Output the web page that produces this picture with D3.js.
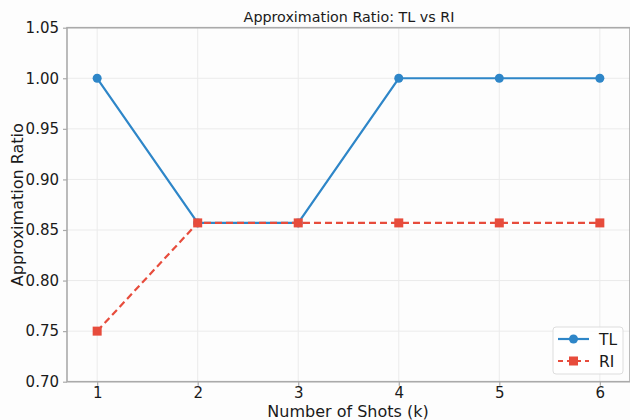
<!DOCTYPE html>
<html>
<head>
<meta charset="utf-8">
<script src="https://cdn.jsdelivr.net/npm/d3@7"></script>
<style>
  body { margin: 0; background: #fdfdfd; }
  svg { display: block; font-family: "DejaVu Sans", sans-serif; }
</style>
</head>
<body>
<svg id="chart" width="630" height="420"></svg>
<script>
// Data
const shots = [1, 2, 3, 4, 5, 6];
const tlValues = [1.0, 0.857, 0.857, 1.0, 1.0, 1.0];
const riValues = [0.75, 0.857, 0.857, 0.857, 0.857, 0.857];
const yTicks = [0.70, 0.75, 0.80, 0.85, 0.90, 0.95, 1.00, 1.05];

const colors = {
  tl: "#2e86c8",
  ri: "#e74c3c",
  grid: "#ebebeb",
  spine: "#aaaaaa",
  text: "#1a1a1a"
};

const margin = { top: 27.7, right: 0, bottom: 38.3, left: 67 };
const width = 630, height = 420;

const svg = d3.select("#chart");

const x = d3.scaleLinear().domain([0.7, 6.3]).range([margin.left, width - margin.right]);
const y = d3.scaleLinear().domain([0.70, 1.05]).range([height - margin.bottom, margin.top]);

// grid
svg.append("g").selectAll("line").data(shots).enter().append("line")
  .attr("x1", d => x(d)).attr("x2", d => x(d))
  .attr("y1", y(0.70)).attr("y2", y(1.05))
  .attr("stroke", colors.grid).attr("stroke-width", 1);
svg.append("g").selectAll("line").data(yTicks).enter().append("line")
  .attr("x1", x(0.7)).attr("x2", x(6.3))
  .attr("y1", d => y(d)).attr("y2", d => y(d))
  .attr("stroke", colors.grid).attr("stroke-width", 1);

// axes
const xAxis = svg.append("g")
  .attr("transform", `translate(0,${y(0.70)})`)
  .call(d3.axisBottom(x).tickValues(shots).tickFormat(d3.format("d")).tickSize(4).tickPadding(2));
const yAxis = svg.append("g")
  .attr("transform", `translate(${x(0.7)},0)`)
  .call(d3.axisLeft(y).tickValues(yTicks).tickFormat(d3.format(".2f")).tickSize(4).tickPadding(4));

[xAxis, yAxis].forEach(a => {
  a.select(".domain").remove();
  a.selectAll(".tick line").attr("stroke", colors.spine).attr("stroke-width", 1.2);
  a.selectAll(".tick text").attr("fill", colors.text).style("font-size", "15px")
    .style("font-family", "DejaVu Sans");
});

// spines
svg.append("rect")
  .attr("x", x(0.7)).attr("y", y(1.05))
  .attr("width", x(6.3) - x(0.7)).attr("height", y(0.70) - y(1.05))
  .attr("fill", "none").attr("stroke", colors.spine).attr("stroke-width", 1.6);

// lines
const line = d3.line().x((d, i) => x(shots[i])).y(d => y(d));

svg.append("path").datum(tlValues)
  .attr("d", line).attr("fill", "none")
  .attr("stroke", colors.tl).attr("stroke-width", 2.2);

svg.append("path").datum(riValues)
  .attr("d", line).attr("fill", "none")
  .attr("stroke", colors.ri).attr("stroke-width", 2.2)
  .attr("stroke-dasharray", "7,4");

svg.append("g").selectAll("circle").data(tlValues).enter().append("circle")
  .attr("cx", (d, i) => x(shots[i])).attr("cy", d => y(d))
  .attr("r", 4.5).attr("fill", colors.tl);

svg.append("g").selectAll("rect").data(riValues).enter().append("rect")
  .attr("x", (d, i) => x(shots[i]) - 4.5).attr("y", d => y(d) - 4.5)
  .attr("width", 9).attr("height", 9).attr("fill", colors.ri);

// title and labels
svg.append("text")
  .attr("x", 349).attr("y", 21.5)
  .attr("text-anchor", "middle")
  .attr("fill", colors.text)
  .style("font-size", "14.3px")
  .text("Approximation Ratio: TL vs RI");

svg.append("text")
  .attr("x", 348).attr("y", 417)
  .attr("text-anchor", "middle")
  .attr("fill", colors.text)
  .style("font-size", "16px")
  .text("Number of Shots (k)");

svg.append("text")
  .attr("transform", `translate(23,${(y(0.70) + y(1.05)) / 2}) rotate(-90)`)
  .attr("text-anchor", "middle")
  .attr("fill", colors.text)
  .style("font-size", "16px")
  .text("Approximation Ratio");

// legend
const legend = svg.append("g").attr("transform", "translate(553,327)");
legend.append("rect")
  .attr("width", 70).attr("height", 47).attr("rx", 3)
  .attr("fill", "#ffffff").attr("fill-opacity", 0.85)
  .attr("stroke", "#dddddd");

const legendItems = [
  { name: "TL", color: colors.tl, dash: null, marker: "circle" },
  { name: "RI", color: colors.ri, dash: "7,4", marker: "square" }
];

legendItems.forEach((it, i) => {
  const g = legend.append("g").attr("transform", `translate(0,${12 + i * 22})`);
  g.append("line")
    .attr("x1", 5).attr("x2", 36).attr("y1", 0).attr("y2", 0)
    .attr("stroke", it.color).attr("stroke-width", 2.2)
    .attr("stroke-dasharray", it.dash ? "5,4" : null);
  if (it.marker === "circle") {
    g.append("circle").attr("cx", 20.5).attr("cy", 0).attr("r", 4.5).attr("fill", it.color);
  } else {
    g.append("rect").attr("x", 16).attr("y", -4.5).attr("width", 9).attr("height", 9).attr("fill", it.color);
  }
  g.append("text")
    .attr("x", 46).attr("y", 5.5)
    .attr("fill", colors.text)
    .style("font-size", "15.5px")
    .text(it.name);
});
</script>
</body>
</html>
